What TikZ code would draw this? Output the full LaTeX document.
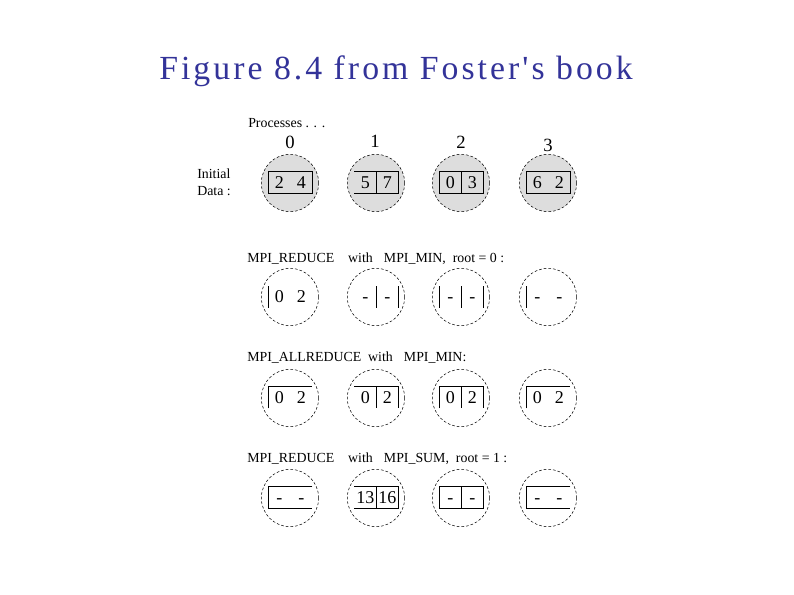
\documentclass[tikz,border=0pt]{standalone}
\usepackage{fontspec}
\setmainfont{Liberation Serif}
\newfontfamily\titlefont[LetterSpace=9]{Liberation Serif}
\usetikzlibrary{positioning}
\definecolor{titleblue}{RGB}{51,51,153}
\definecolor{procgray}{RGB}{221,221,221}
\tikzset{
  proc/.style={draw, circle, dash pattern=on 2pt off 1.5pt, minimum width=42pt, minimum height=43pt, inner sep=0pt},
  cell/.style={minimum width=16.1pt, minimum height=15.75pt, inner sep=0pt, font=\fontsize{13.5}{14}\selectfont},
  lbl/.style={anchor=base west, inner sep=0pt, font=\fontsize{10.4}{12}\selectfont},
  num/.style={anchor=base, inner sep=0pt, font=\fontsize{14}{16}\selectfont},
  wall/.style={draw, line width=0.6pt}
}
\newcommand{\nil}{\vphantom{0}-}
\begin{document}
\begin{tikzpicture}[x=0.75pt,y=-0.75pt]
\useasboundingbox (0,0) rectangle (794,595);
\node[anchor=base, inner sep=0pt, text=titleblue, font=\titlefont\fontsize{25.3}{27}\selectfont] (title) at (396,80) {Figure 8.4 from Foster's book};

% labels
\node[lbl] (procs) at (248,128) {Processes . . .};
\node[num] (n0) at (290,149) {0};
\node[num] (n1) at (375,148) {1};
\node[num] (n2) at (461,149) {2};
\node[num] (n3) at (548,152) {3};
\node[lbl] (init) at (197,179) {Initial};
\node[lbl] (data) at (197,196) {Data :};
\node[lbl] (red0) at (247,263) {MPI\_REDUCE\hspace{1em}with\hspace{0.8em}MPI\_MIN,\hspace{0.5em}root = 0 :};
\node[lbl] (allred) at (247,362) {MPI\_ALLREDUCE\hspace{0.5em}with\hspace{0.8em}MPI\_MIN:};
\node[lbl] (red1) at (247,463) {MPI\_REDUCE\hspace{1em}with\hspace{0.8em}MPI\_SUM,\hspace{0.5em}root = 1 :};

% initial data
\node[proc, fill=procgray] (c10) at (290,183) {};
\node[proc, fill=procgray] (c11) at (376,183) {};
\node[proc, fill=procgray] (c12) at (461,183) {};
\node[proc, fill=procgray] (c13) at (548,183) {};
\node[cell] (a10) at (279.25,182.5) {2};
\node[cell, right=0pt of a10] (b10) {4};
\node[cell] (a11) at (365.25,182.5) {5};
\node[cell, right=0pt of a11] (b11) {7};
\node[cell] (a12) at (450.25,182.5) {0};
\node[cell, right=0pt of a12] (b12) {3};
\node[cell] (a13) at (537.25,182.5) {6};
\node[cell, right=0pt of a13] (b13) {2};
\path[wall] (a10.north west) rectangle (b10.south east);
\path[wall] (a11.north west) -- (b11.north east) -- (b11.south east) -- (a11.south west);
\path[wall] (a11.north east) -- (a11.south east);
\path[wall] (a12.north west) rectangle (b12.south east);
\path[wall] (a12.north east) -- (a12.south east);
\path[wall] (a13.north west) rectangle (b13.south east);

% reduce, min, root 0
\node[proc] (c20) at (290,297) {};
\node[proc] (c21) at (376,297) {};
\node[proc] (c22) at (461,297) {};
\node[proc] (c23) at (548,297) {};
\node[cell] (a20) at (279.25,297) {0};
\node[cell, right=0pt of a20] (b20) {2};
\node[cell] (a21) at (365.25,297) {\nil};
\node[cell, right=0pt of a21] (b21) {\nil};
\node[cell] (a22) at (450.25,297) {\nil};
\node[cell, right=0pt of a22] (b22) {\nil};
\node[cell] (a23) at (537.25,297) {\nil};
\node[cell, right=0pt of a23] (b23) {\nil};
\path[wall] (a20.north west) -- (a20.south west);
\path[wall] (a21.north east) -- (a21.south east);
\path[wall] (b21.north east) -- (b21.south east);
\path[wall] (a22.north west) -- (a22.south west);
\path[wall] (a22.north east) -- (a22.south east);
\path[wall] (b22.north east) -- (b22.south east);
\path[wall] (a23.north west) -- (a23.south west);

% allreduce, min
\node[proc] (c30) at (290,398) {};
\node[proc] (c31) at (376,398) {};
\node[proc] (c32) at (461,398) {};
\node[proc] (c33) at (548,398) {};
\node[cell] (a30) at (279.25,397.5) {0};
\node[cell, right=0pt of a30] (b30) {2};
\node[cell] (a31) at (365.25,397.5) {0};
\node[cell, right=0pt of a31] (b31) {2};
\node[cell] (a32) at (450.25,397.5) {0};
\node[cell, right=0pt of a32] (b32) {2};
\node[cell] (a33) at (537.25,397.5) {0};
\node[cell, right=0pt of a33] (b33) {2};
\path[wall] (a30.south west) -- (a30.north west) -- (b30.north east);
\path[wall] (a31.north west) -- (b31.north east) -- (b31.south east);
\path[wall] (a31.north east) -- (a31.south east);
\path[wall] (a32.south west) -- (a32.north west) -- (b32.north east) -- (b32.south east);
\path[wall] (a32.north east) -- (a32.south east);
\path[wall] (a33.south west) -- (a33.north west) -- (b33.north east);

% reduce, sum, root 1
\node[proc] (c40) at (290,498) {};
\node[proc] (c41) at (376,498) {};
\node[proc] (c42) at (461,498) {};
\node[proc] (c43) at (548,498) {};
\node[cell] (a40) at (279.25,497.5) {\nil};
\node[cell, right=0pt of a40] (b40) {\nil};
\node[cell] (a41) at (365.25,497.5) {13};
\node[cell, right=0pt of a41] (b41) {16};
\node[cell] (a42) at (450.25,497.5) {\nil};
\node[cell, right=0pt of a42] (b42) {\nil};
\node[cell] (a43) at (537.25,497.5) {\nil};
\node[cell, right=0pt of a43] (b43) {\nil};
\path[wall] (b40.north east) -- (a40.north west) -- (a40.south west) -- (b40.south east);
\path[wall] (a41.north west) -- (b41.north east) -- (b41.south east) -- (a41.south west);
\path[wall] (a41.north east) -- (a41.south east);
\path[wall] (a42.north west) rectangle (b42.south east);
\path[wall] (a42.north east) -- (a42.south east);
\path[wall] (b43.north east) -- (a43.north west) -- (a43.south west) -- (b43.south east);
\end{tikzpicture}
\end{document}
